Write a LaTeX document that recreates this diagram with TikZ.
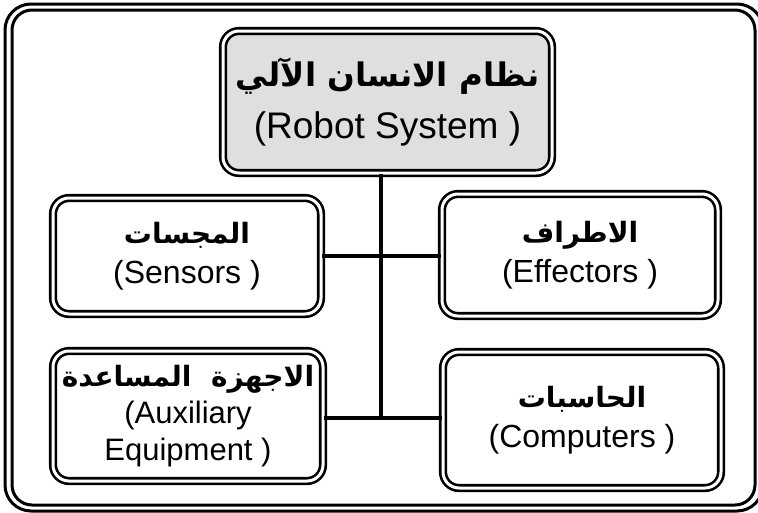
\documentclass[tikz,border=0pt]{standalone}
\usepackage{fontspec}
\setmainfont{Liberation Sans}
\newfontfamily\arabicfont[Script=Arabic]{DejaVu Sans}
\TeXXeTstate=1
\newcommand{\arsize}[1]{\fontsize{#1}{#1}\selectfont\arabicfont\bfseries}
\tikzset{
  box/.style={draw=black, line width=2.6pt, double=white, double distance=3pt,
    rounded corners=16pt, align=center, inner sep=0pt, font=\fontsize{32}{40}\selectfont},
  topbox/.style={box, double=white, fill=gray!25, font=\fontsize{37}{52}\selectfont},
  link/.style={line width=3.5pt},
  frameline/.style={line width=3pt}
}
\begin{document}
\begin{tikzpicture}[x=1pt,y=-1pt]
\useasboundingbox (0,0) rectangle (758,512);
\fill[white] (0,0) rectangle (758,512);
% outer frame
\draw[frameline, rounded corners=26pt] (5,4) rectangle (763,511);
\draw[frameline, rounded corners=20pt] (12,10) rectangle (755,505);
% boxes
\node[topbox, minimum width=329pt, minimum height=142pt] (top) at (387.5,102)
  {{\arsize{32.5}\beginR نظام الانسان الآلي\endR}\\(Robot System )};
\node[box, minimum width=268pt, minimum height=116pt] (sens) at (187,256)
  {{\arsize{28}\beginR المجسات\endR}\\(Sensors )};
\node[box, minimum width=276pt, minimum height=122pt] (eff) at (580,255)
  {{\arsize{28}\beginR الاطراف\endR}\\(Effectors )};
\node[box, minimum width=270pt, minimum height=130pt, font=\fontsize{31}{37}\selectfont] (aux) at (188,416)
  {{\arsize{28}\beginR الاجهزة\ \ المساعدة\endR}\\(Auxiliary\\Equipment )};
\node[box, minimum width=278pt, minimum height=136pt] (comp) at (582,420)
  {{\arsize{28}\beginR الحاسبات\endR}\\(Computers )};
% connectors
\coordinate (j1) at (381,256);
\coordinate (j2) at (381,418);
\draw[link] (j1 |- top.south) -- (j2);
\draw[link] (sens.east |- j1) -- (eff.west |- j1);
\draw[link] (aux.east |- j2) -- (comp.west |- j2);
\end{tikzpicture}
\end{document}
